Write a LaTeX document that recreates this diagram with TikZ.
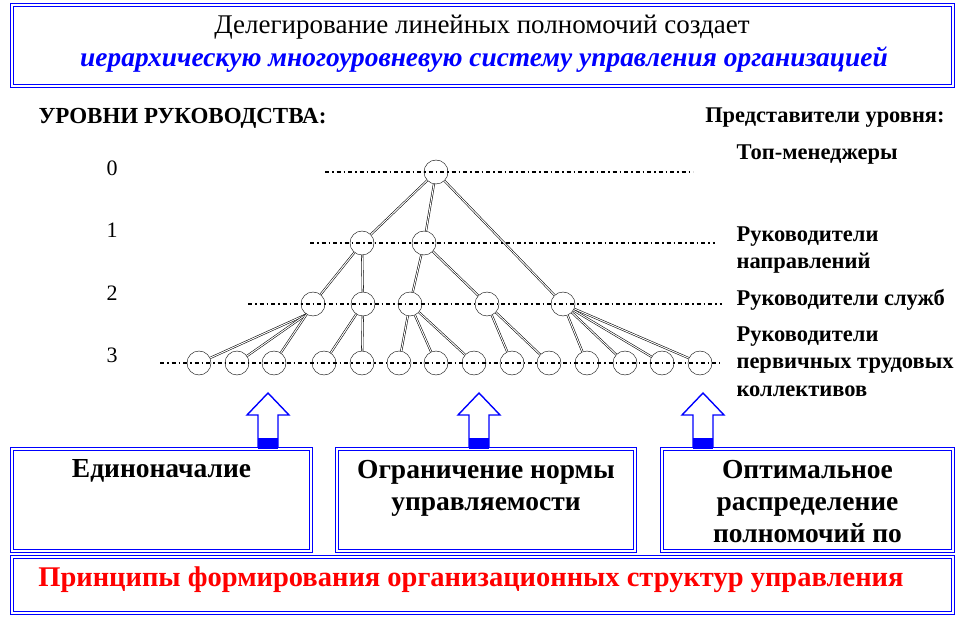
\documentclass[tikz,border=0pt]{standalone}
\usepackage{fontspec}
\setmainfont{Liberation Serif}
\usepackage{xcolor}
\usetikzlibrary{positioning}

\begin{document}
\begin{tikzpicture}[x=1pt, y=-1pt,
  frame/.style={draw=blue, double=white, double distance=1.4pt, line width=1.2pt, inner sep=0pt},
  emp/.style={circle, draw, fill=white, minimum size=24pt, inner sep=0pt},
  link/.style={draw, double=white, double distance=1pt, line width=0.55pt},
  level/.style={line width=1.1pt, dash pattern=on 4pt off 3pt on 1.5pt off 3pt},
  uparrow/.style={draw=blue, fill=white, line width=1.4pt, line join=miter},
  head/.style={font=\fontsize{23}{26}\selectfont\bfseries},
  num/.style={font=\fontsize{22}{26}\selectfont},
  role/.style={font=\fontsize{22.5}{27.5}\selectfont\bfseries, align=left},
  principle/.style={font=\fontsize{27.5}{32}\selectfont\bfseries, align=center},
]
\useasboundingbox (0,0) rectangle (964,620);

% Title
\node[frame, minimum width=941pt, minimum height=81pt] (title) at (482.5,45.5) {};
\node[font=\fontsize{27}{31}\selectfont] (tline1) at (482,27) {Делегирование линейных полномочий создает};
\node[font=\fontsize{27.4}{31}\selectfont\bfseries\itshape, text=blue] (tline2) at (484,60) {иерархическую многоуровневую систему управления организацией};

% Headings
\node[head, anchor=west] (levels) at (35,118) {УРОВНИ РУКОВОДСТВА:};
\node[head, font=\fontsize{22.4}{26}\selectfont\bfseries, anchor=east] (reps) at (948,118) {Представители уровня:};

% Level numbers
\node[num] (n0) at (112,168) {0};
\node[num] (n1) at (112,230) {1};
\node[num] (n2) at (112,293) {2};
\node[num] (n3) at (112,355) {3};

% Roles
\node[role, anchor=west] (r0) at (733,155) {Топ-менеджеры};
\node[role, anchor=north west] (r1) at (733,223) {Руководители\\направлений};
\node[role, anchor=west] (r2) at (733,300) {Руководители служб};
\node[role, anchor=north west] (r3) at (733,323) {Руководители\\первичных трудовых\\коллективов};

% Employees
\node[emp] (t0) at (436,172) {};
\node[emp] (d1) at (362,243) {};
\node[emp] (d2) at (424,243) {};
\node[emp] (s1) at (313,304) {};
\node[emp] (s2) at (363,304) {};
\node[emp] (s3) at (410,304) {};
\node[emp] (s4) at (487,304) {};
\node[emp] (s5) at (563,304) {};
\foreach \x [count=\i] in {199,237,274,324,362,399,436,474,512,549,587,625,662,700}
  \node[emp] (k\i) at (\x,363) {};

% Links
\draw[link] (t0) -- (d1);
\draw[link] (t0) -- (d2);
\draw[link] (t0) -- (s5);
\draw[link] (d1) -- (s1);
\draw[link] (d1) -- (s2);
\draw[link] (d2) -- (s3);
\draw[link] (d2) -- (s4);
\foreach \k in {1,2,3}
  \draw[link] (s1.238) -- (k\k);
\foreach \k in {4,5}
  \draw[link] (s2) -- (k\k);
\foreach \k in {6,7,8}
  \draw[link] (s3) -- (k\k);
\foreach \k in {9,10}
  \draw[link] (s4) -- (k\k);
\foreach \k in {11,...,14}
  \draw[link] (s5) -- (k\k);

% Level lines
\draw[level] (325,172) -- (693,172);
\draw[level] (310,243) -- (715,243);
\draw[level] (248,304) -- (722,304);
\draw[level] (160,363) -- (720,363);

% Principles
\node[frame, minimum width=299pt, minimum height=102pt] (b1) at (161.5,500) {};
\node[frame, minimum width=298pt, minimum height=102pt] (b2) at (486,500) {};
\node[frame, minimum width=291pt, minimum height=102pt] (b3) at (807.5,500) {};
\node[frame, minimum width=941pt, minimum height=56pt] (base) at (482.5,585) {};
\node[principle, below=8pt of b1.north] (p1) {Единоначалие};
\node[principle, below=8pt of b2.north] (p2) {Ограничение нормы\\управляемости};
\node[principle, below=8pt of b3.north] (p3) {Оптимальное\\распределение\\полномочий по};
\node[font=\fontsize{28.5}{32}\selectfont\bfseries, text=red] (ptitle) at (471,580) {Принципы формирования организационных структур управления};

% Arrows
\foreach \x in {268,479,703} {
  \draw[uparrow] (\x-10,447) -- (\x-10,415) -- (\x-21,415) -- (\x,393)
    -- (\x+21,415) -- (\x+10,415) -- (\x+10,447);
  \fill[blue] (\x-10,438) rectangle (\x+10,449);
}

\end{tikzpicture}
\end{document}
